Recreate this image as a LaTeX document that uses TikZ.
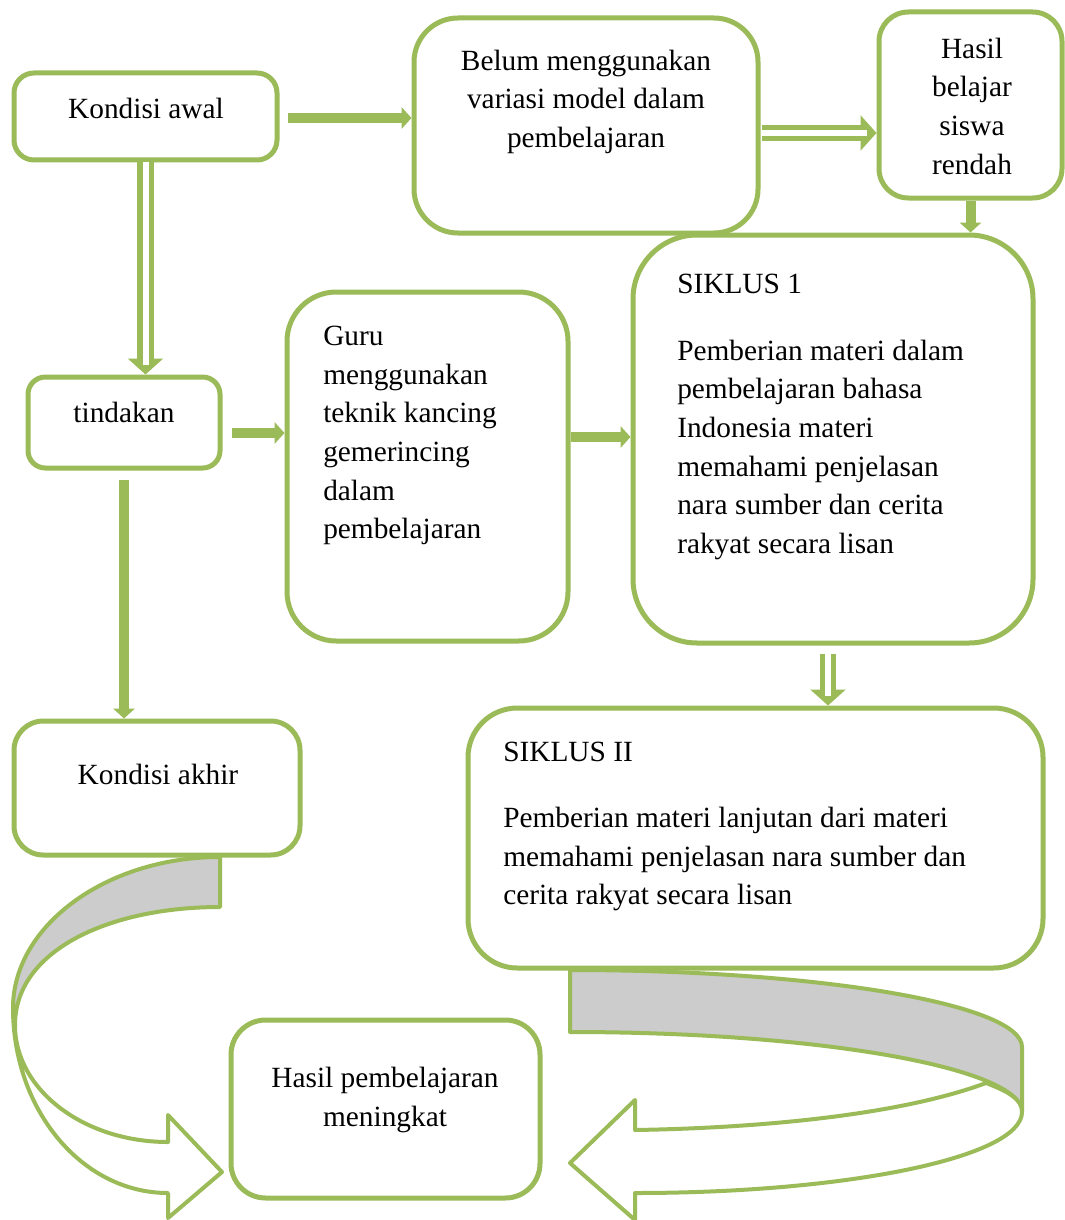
\documentclass[tikz,border=0pt]{standalone}
\usepackage{fontspec}
\setmainfont{Liberation Serif}
\usetikzlibrary{arrows.meta,calc}
\definecolor{gr}{HTML}{9BBB59}
\definecolor{gy}{HTML}{CCCCCC}
\begin{document}
\begin{tikzpicture}[x=0.75pt,y=-0.75pt,
 box/.style={draw=gr, line width=3.75pt, rectangle, inner sep=0pt},
 txt/.style={inner sep=0pt, font=\fontsize{22}{29}\selectfont, text=black},
 thk/.style={draw=gr, line width=7.5pt, -{Triangle[length=7.5pt,width=16pt]}},
 dbl/.style={draw=gr, line width=12.5pt, -{Triangle[length=12pt,width=26pt]}, postaction={draw=white, line width=4.5pt, -, shorten >=7pt}},
 band/.style={draw=gr, line width=3pt, line join=round},
]
\fill[white] (0,0) rectangle (1064,1220);
\useasboundingbox (0,0) rectangle (1064,1220);

% curved arrows
\path[band, fill=gy] (220,857) .. controls (106,857) and (13,926) .. (13,1008) -- (15,1025) .. controls (15,950) and (110,907) .. (220,907) -- cycle;
\path[band, fill=white] (13,1008) .. controls (13,1110) and (82,1193) .. (168,1193) -- (168,1218) -- (222,1172) -- (168,1115) -- (168,1142) .. controls (84,1142) and (15,1090) .. (15,1025) -- cycle;
\path[band, fill=gy] (570,970) .. controls (819.5,970) and (1022,1004.5) .. (1022,1047) -- (1022,1112) .. controls (1022,1068) and (819.5,1032) .. (570,1032) -- cycle;
\path[band, fill=white] (1022,1112) .. controls (1022,1157) and (848.6,1193) .. (635,1193) -- (635,1220) -- (570,1163) -- (635,1100) -- (635,1130) .. controls (760,1128) and (900,1115) .. (986,1083) .. controls (1010,1092) and (1022,1100) .. (1022,1112) -- cycle;

% boxes
\node[box, minimum width=263*0.75pt, minimum height=87*0.75pt, rounded corners=15pt] (awal) at (145.5,116.5) {};
\node[box, minimum width=344*0.75pt, minimum height=215*0.75pt, rounded corners=33pt] (belum) at (586,125.5) {};
\node[box, minimum width=183*0.75pt, minimum height=186*0.75pt, rounded corners=22pt] (hasil) at (970.5,105) {};
\node[box, minimum width=192*0.75pt, minimum height=91*0.75pt, rounded corners=13pt] (tind) at (124,422.5) {};
\node[box, minimum width=281*0.75pt, minimum height=349*0.75pt, rounded corners=37pt] (guru) at (427.5,466.5) {};
\node[box, minimum width=400*0.75pt, minimum height=408*0.75pt, rounded corners=48pt] (s1) at (833,439) {};
\node[box, minimum width=286*0.75pt, minimum height=134*0.75pt, rounded corners=22pt] (akhir) at (157,788) {};
\node[box, minimum width=575*0.75pt, minimum height=260*0.75pt, rounded corners=37pt] (s2) at (755.5,838) {};
\node[box, minimum width=309*0.75pt, minimum height=178*0.75pt, rounded corners=26pt] (hp) at (385.5,1109) {};

% texts
\node[txt, anchor=north, align=center] (awalT) at (146,91) {\strut Kondisi awal};
\node[txt, anchor=north, align=center] (belumT) at (586,43) {\strut Belum menggunakan\\variasi model dalam\\pembelajaran};
\node[txt, anchor=north, align=center] (hasilT) at (972,31) {\strut Hasil\\belajar\\siswa\\rendah};
\node[txt, anchor=north, align=center] (tindT) at (124,395) {\strut tindakan};
\node[txt, anchor=north west, align=left] (guruT) at (323,318) {\strut Guru\\menggunakan\\teknik kancing\\gemerincing\\dalam\\pembelajaran};
\node[txt, anchor=north west, align=left] (s1T) at (677,266) {\strut SIKLUS 1\\[21pt]Pemberian materi dalam\\pembelajaran bahasa\\Indonesia materi\\memahami penjelasan\\nara sumber dan cerita\\rakyat secara lisan};
\node[txt, anchor=north, align=center] (akhirT) at (158,757) {\strut Kondisi akhir};
\node[txt, anchor=north west, align=left] (s2T) at (503,734) {\strut SIKLUS II\\[20.5pt]Pemberian materi lanjutan dari materi\\memahami penjelasan nara sumber dan\\cerita rakyat secara lisan};
\node[txt, anchor=north, align=center] (hpT) at (385,1060) {\strut Hasil pembelajaran\\meningkat};

% connectors
\draw[thk, shorten <=6pt] (awal.east |- 0,118) -- (belum.west |- 0,118);
\draw[dbl, shorten <=1pt] (belum.east |- 0,133) -- (hasil.west |- 0,133);
\draw[dbl] (awal.south) -- (awal.south |- tind.north);
\draw[thk] (hasil.south) -- (hasil.south |- s1.north);
\draw[thk, shorten <=7pt] (tind.east |- 0,433) -- (guru.west |- 0,433);
\draw[thk] (guru.east |- 0,437) -- (s1.west |- 0,437);
\draw[thk, shorten <=7pt] (tind.south) -- (tind.south |- akhir.north);
\draw[dbl, shorten <=6pt] (s1.south -| 828,0) -- (s2.north -| 828,0);
\end{tikzpicture}
\end{document}
